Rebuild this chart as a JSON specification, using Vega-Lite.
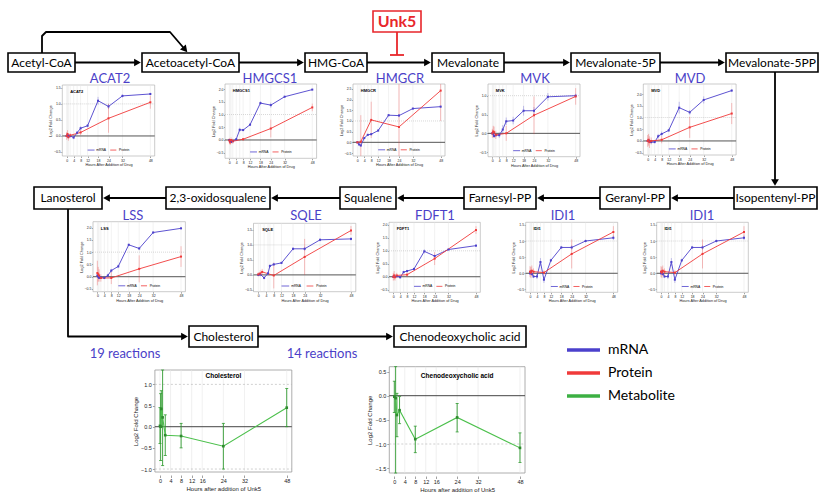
{
"$schema":"https://vega.github.io/schema/vega-lite/v6.json",
"width":820,"height":494,"padding":0,"autosize":{"type":"none"},"background":"white",
"config":{"view":{"stroke":null},"font":"Liberation Sans","legend":{"disable":true},
"axis":{"grid":false,"domain":false,"tickSize":1.5,"tickWidth":0.5,"tickColor":"#444","labelFontSize":3.5,"labelPadding":0.5,"titleFontSize":3.8,"titleFontWeight":"normal","titlePadding":1,"labelOverlap":false,"labelFlush":false,"labelColor":"#222","titleColor":"#222"}},
"resolve":{"scale":{"x":"independent","y":"independent"}},
"datasets":{
"paths":[
{"p":1,"o":1,"x":75,"y":62.5},{"p":1,"o":2,"x":138,"y":62.5},
{"p":2,"o":1,"x":239,"y":62.5},{"p":2,"o":2,"x":301,"y":62.5},
{"p":3,"o":1,"x":367,"y":62.5},{"p":3,"o":2,"x":428,"y":62.5},
{"p":4,"o":1,"x":504,"y":62.5},{"p":4,"o":2,"x":567,"y":62.5},
{"p":5,"o":1,"x":660,"y":62.5},{"p":5,"o":2,"x":722,"y":62.5},
{"p":6,"o":1,"x":42,"y":53},{"p":6,"o":2,"x":42,"y":36},{"p":6,"o":3,"x":46,"y":32},{"p":6,"o":4,"x":170,"y":32},{"p":6,"o":5,"x":185,"y":49.5},
{"p":7,"o":1,"x":775,"y":72},{"p":7,"o":2,"x":775,"y":182.5},
{"p":8,"o":1,"x":734,"y":198},{"p":8,"o":2,"x":674.5,"y":198},
{"p":9,"o":1,"x":600,"y":198},{"p":9,"o":2,"x":540.5,"y":198},
{"p":10,"o":1,"x":464,"y":198},{"p":10,"o":2,"x":400.5,"y":198},
{"p":11,"o":1,"x":340,"y":198},{"p":11,"o":2,"x":274.5,"y":198},
{"p":12,"o":1,"x":166,"y":198},{"p":12,"o":2,"x":106.5,"y":198},
{"p":13,"o":1,"x":68,"y":209},{"p":13,"o":2,"x":68,"y":336.5},{"p":13,"o":3,"x":184.5,"y":336.5},
{"p":14,"o":1,"x":258,"y":336.5},{"p":14,"o":2,"x":389.5,"y":336.5}],
"heads":[
{"x":137.5,"y":62.5,"a":0},{"x":300.5,"y":62.5,"a":0},{"x":427.5,"y":62.5,"a":0},{"x":566.5,"y":62.5,"a":0},{"x":721.5,"y":62.5,"a":0},
{"x":185.1,"y":49.6,"a":49},{"x":775,"y":182.5,"a":90},
{"x":674.5,"y":198,"a":180},{"x":540.5,"y":198,"a":180},{"x":400.5,"y":198,"a":180},{"x":274.5,"y":198,"a":180},{"x":106.5,"y":198,"a":180},
{"x":184.5,"y":336.5,"a":0},{"x":389.5,"y":336.5,"a":0}],
"inhib":[{"x1":397,"x2":397,"y1":32,"y2":55},{"x1":390,"x2":404,"y1":55,"y2":55}],
"boxes":[
{"label":"Acetyl-CoA","x1":8,"x2":75,"y1":53,"y2":72,"cx":41.5,"cy":62.5},
{"label":"Acetoacetyl-CoA","x1":142,"x2":239,"y1":53,"y2":72,"cx":190.5,"cy":62.5},
{"label":"HMG-CoA","x1":305,"x2":367,"y1":53,"y2":72,"cx":336,"cy":62.5},
{"label":"Mevalonate","x1":432,"x2":504,"y1":53,"y2":72,"cx":468,"cy":62.5},
{"label":"Mevalonate-5P","x1":571,"x2":660,"y1":53,"y2":72,"cx":615.5,"cy":62.5},
{"label":"Mevalonate-5PP","x1":726,"x2":818,"y1":53,"y2":72,"cx":772,"cy":62.5},
{"label":"Lanosterol","x1":34,"x2":102,"y1":187,"y2":209,"cx":68,"cy":198},
{"label":"2,3-oxidosqualene","x1":166,"x2":270,"y1":187,"y2":209,"cx":218,"cy":198},
{"label":"Squalene","x1":340,"x2":396,"y1":187,"y2":209,"cx":368,"cy":198},
{"label":"Farnesyl-PP","x1":464,"x2":536,"y1":187,"y2":209,"cx":500,"cy":198},
{"label":"Geranyl-PP","x1":600,"x2":670,"y1":187,"y2":209,"cx":635,"cy":198},
{"label":"Isopentenyl-PP","x1":734,"x2":817,"y1":187,"y2":209,"cx":775.5,"cy":198},
{"label":"Cholesterol","x1":189,"x2":258,"y1":326,"y2":347,"cx":223.5,"cy":336.5},
{"label":"Chenodeoxycholic acid","x1":394,"x2":526,"y1":326,"y2":347,"cx":460,"cy":336.5}],
"unk":[{"label":"Unk5","x1":373,"x2":421,"y1":11,"y2":32,"cx":397,"cy":21.5}],
"genes":[
{"g":"ACAT2","x":110,"y":79},{"g":"HMGCS1","x":270,"y":79},{"g":"HMGCR","x":400,"y":79},{"g":"MVK","x":535,"y":79},{"g":"MVD","x":690,"y":79},
{"g":"LSS","x":133,"y":216},{"g":"SQLE","x":306,"y":216},{"g":"FDFT1","x":435,"y":216},{"g":"IDI1","x":563,"y":216},{"g":"IDI1","x":702,"y":216},
{"g":"19 reactions","x":125,"y":354},{"g":"14 reactions","x":322,"y":354}],
"legend":[{"s":"mRNA","y":350},{"s":"Protein","y":373},{"s":"Metabolite","y":396}],
"acat2":[
{"s":"mRNA","t":0,"v":0,"lo":-0.04,"hi":0.04},{"s":"mRNA","t":0.5,"v":0.03,"lo":-0.02,"hi":0.08},{"s":"mRNA","t":1,"v":-0.02,"lo":-0.07,"hi":0.03},{"s":"mRNA","t":2,"v":0,"lo":-0.05,"hi":0.05},{"s":"mRNA","t":4,"v":-0.05,"lo":-0.1,"hi":0},{"s":"mRNA","t":6,"v":0.1,"lo":0.05,"hi":0.15},{"s":"mRNA","t":8,"v":0.24,"lo":0.18,"hi":0.3},{"s":"mRNA","t":12,"v":0.32,"lo":0.27,"hi":0.37},{"s":"mRNA","t":18,"v":1.1,"lo":0.98,"hi":1.22},{"s":"mRNA","t":24,"v":0.92,"lo":0.84,"hi":1},{"s":"mRNA","t":32,"v":1.25,"lo":1.2,"hi":1.3},{"s":"mRNA","t":48,"v":1.31,"lo":1.27,"hi":1.35},
{"s":"Protein","t":0,"v":0,"lo":-0.12,"hi":0.12},{"s":"Protein","t":0.5,"v":0.06,"lo":-0.06,"hi":0.18},{"s":"Protein","t":1,"v":-0.04,"lo":-0.15,"hi":0.07},{"s":"Protein","t":2,"v":0.02,"lo":-0.05,"hi":0.09},{"s":"Protein","t":8,"v":0.11,"lo":0.03,"hi":0.19},{"s":"Protein","t":24,"v":0.55,"lo":0.1,"hi":1},{"s":"Protein","t":48,"v":1.05,"lo":0.85,"hi":1.25}],
"hmgcs1":[
{"s":"mRNA","t":0,"v":0,"lo":-0.04,"hi":0.04},{"s":"mRNA","t":0.5,"v":-0.05,"lo":-0.09,"hi":-0.01},{"s":"mRNA","t":1,"v":-0.08,"lo":-0.12,"hi":-0.04},{"s":"mRNA","t":2,"v":-0.05,"lo":-0.09,"hi":-0.01},{"s":"mRNA","t":4,"v":0.03,"lo":-0.01,"hi":0.07},{"s":"mRNA","t":6,"v":0.4,"lo":0.32,"hi":0.48},{"s":"mRNA","t":8,"v":0.39,"lo":0.34,"hi":0.44},{"s":"mRNA","t":12,"v":0.6,"lo":0.55,"hi":0.65},{"s":"mRNA","t":18,"v":1.45,"lo":1.38,"hi":1.52},{"s":"mRNA","t":24,"v":1.37,"lo":1.27,"hi":1.47},{"s":"mRNA","t":32,"v":1.7,"lo":1.66,"hi":1.74},{"s":"mRNA","t":48,"v":1.98,"lo":1.95,"hi":2.01},
{"s":"Protein","t":0,"v":-0.02,"lo":-0.12,"hi":0.08},{"s":"Protein","t":0.5,"v":-0.1,"lo":-0.2,"hi":0},{"s":"Protein","t":1,"v":0,"lo":-0.1,"hi":0.1},{"s":"Protein","t":2,"v":-0.05,"lo":-0.15,"hi":0.05},{"s":"Protein","t":8,"v":0.03,"lo":-0.02,"hi":0.08},{"s":"Protein","t":24,"v":0.45,"lo":0.1,"hi":0.8},{"s":"Protein","t":48,"v":1.28,"lo":1.13,"hi":1.43}],
"hmgcr":[
{"s":"mRNA","t":0,"v":0,"lo":-0.04,"hi":0.04},{"s":"mRNA","t":1,"v":-0.1,"lo":-0.14,"hi":-0.06},{"s":"mRNA","t":2,"v":-0.15,"lo":-0.2,"hi":-0.1},{"s":"mRNA","t":4,"v":0.2,"lo":0.15,"hi":0.25},{"s":"mRNA","t":6,"v":0.35,"lo":0.3,"hi":0.4},{"s":"mRNA","t":8,"v":0.38,"lo":0.33,"hi":0.43},{"s":"mRNA","t":12,"v":0.55,"lo":0.5,"hi":0.6},{"s":"mRNA","t":18,"v":1.27,"lo":1.22,"hi":1.32},{"s":"mRNA","t":24,"v":1.25,"lo":1.18,"hi":1.32},{"s":"mRNA","t":32,"v":1.58,"lo":1.54,"hi":1.62},{"s":"mRNA","t":48,"v":1.67,"lo":1.62,"hi":1.72},
{"s":"Protein","t":0,"v":0,"lo":-0.05,"hi":0.05},{"s":"Protein","t":2,"v":0.03,"lo":-0.64,"hi":1.27},{"s":"Protein","t":8,"v":1.05,"lo":0.2,"hi":1.9},{"s":"Protein","t":24,"v":0.72,"lo":-0.64,"hi":2.73},{"s":"Protein","t":48,"v":2.42,"lo":1,"hi":2.73}],
"mvk":[
{"s":"mRNA","t":0,"v":0,"lo":-0.05,"hi":0.05},{"s":"mRNA","t":0.5,"v":0,"lo":-0.05,"hi":0.05},{"s":"mRNA","t":1,"v":-0.07,"lo":-0.12,"hi":-0.02},{"s":"mRNA","t":2,"v":-0.05,"lo":-0.1,"hi":0},{"s":"mRNA","t":4,"v":-0.05,"lo":-0.12,"hi":0.02},{"s":"mRNA","t":6,"v":0.1,"lo":-0.02,"hi":0.22},{"s":"mRNA","t":8,"v":0.32,"lo":0.22,"hi":0.42},{"s":"mRNA","t":12,"v":0.34,"lo":0.24,"hi":0.44},{"s":"mRNA","t":18,"v":0.6,"lo":0.47,"hi":0.73},{"s":"mRNA","t":24,"v":0.6,"lo":0.5,"hi":0.7},{"s":"mRNA","t":32,"v":0.97,"lo":0.87,"hi":1.07},{"s":"mRNA","t":48,"v":1,"lo":0.95,"hi":1.05},
{"s":"Protein","t":0,"v":0,"lo":-0.12,"hi":0.12},{"s":"Protein","t":0.5,"v":0.05,"lo":-0.1,"hi":0.2},{"s":"Protein","t":1,"v":0.03,"lo":-0.12,"hi":0.18},{"s":"Protein","t":2,"v":-0.04,"lo":-0.15,"hi":0.07},{"s":"Protein","t":8,"v":0,"lo":-0.2,"hi":0.2},{"s":"Protein","t":24,"v":0.48,"lo":-0.02,"hi":0.98},{"s":"Protein","t":48,"v":0.98,"lo":0.76,"hi":1.2}],
"mvd":[
{"s":"mRNA","t":0,"v":0,"lo":-0.05,"hi":0.05},{"s":"mRNA","t":0.5,"v":0.02,"lo":-0.03,"hi":0.07},{"s":"mRNA","t":1,"v":-0.03,"lo":-0.08,"hi":0.02},{"s":"mRNA","t":2,"v":-0.05,"lo":-0.1,"hi":0},{"s":"mRNA","t":4,"v":-0.05,"lo":-0.1,"hi":0},{"s":"mRNA","t":6,"v":0.2,"lo":0.1,"hi":0.3},{"s":"mRNA","t":8,"v":0.3,"lo":0.2,"hi":0.4},{"s":"mRNA","t":12,"v":0.45,"lo":0.38,"hi":0.52},{"s":"mRNA","t":18,"v":1.42,"lo":1.17,"hi":1.67},{"s":"mRNA","t":24,"v":1.22,"lo":1.12,"hi":1.32},{"s":"mRNA","t":32,"v":1.75,"lo":1.6,"hi":1.9},{"s":"mRNA","t":48,"v":2.15,"lo":2.1,"hi":2.2},
{"s":"Protein","t":0,"v":0,"lo":-0.25,"hi":0.25},{"s":"Protein","t":0.5,"v":0.05,"lo":-0.2,"hi":0.3},{"s":"Protein","t":1,"v":-0.05,"lo":-0.3,"hi":0.2},{"s":"Protein","t":2,"v":0,"lo":-0.15,"hi":0.15},{"s":"Protein","t":8,"v":0.05,"lo":-0.1,"hi":0.2},{"s":"Protein","t":24,"v":0.58,"lo":0.13,"hi":1.03},{"s":"Protein","t":48,"v":1.17,"lo":0.72,"hi":1.62}],
"lss":[
{"s":"mRNA","t":0,"v":0.05,"lo":0,"hi":0.1},{"s":"mRNA","t":0.5,"v":0,"lo":-0.05,"hi":0.05},{"s":"mRNA","t":1,"v":-0.05,"lo":-0.1,"hi":0},{"s":"mRNA","t":2,"v":-0.03,"lo":-0.08,"hi":0.02},{"s":"mRNA","t":4,"v":-0.05,"lo":-0.1,"hi":0},{"s":"mRNA","t":6,"v":0.05,"lo":-0.02,"hi":0.12},{"s":"mRNA","t":8,"v":0.25,"lo":0.18,"hi":0.32},{"s":"mRNA","t":12,"v":0.42,"lo":0.35,"hi":0.49},{"s":"mRNA","t":18,"v":1.3,"lo":1.25,"hi":1.35},{"s":"mRNA","t":24,"v":1.15,"lo":1.08,"hi":1.22},{"s":"mRNA","t":32,"v":1.8,"lo":1.75,"hi":1.85},{"s":"mRNA","t":48,"v":1.97,"lo":1.93,"hi":2.01},
{"s":"Protein","t":0,"v":0.15,"lo":-0.35,"hi":0.65},{"s":"Protein","t":0.5,"v":0.1,"lo":-0.2,"hi":0.4},{"s":"Protein","t":1,"v":0.05,"lo":-0.2,"hi":0.3},{"s":"Protein","t":2,"v":-0.05,"lo":-0.2,"hi":0.1},{"s":"Protein","t":8,"v":-0.05,"lo":-0.3,"hi":0.2},{"s":"Protein","t":24,"v":0.32,"lo":-0.23,"hi":0.87},{"s":"Protein","t":48,"v":0.82,"lo":0.4,"hi":1.24}],
"sqle":[
{"s":"mRNA","t":0,"v":0,"lo":-0.04,"hi":0.04},{"s":"mRNA","t":1,"v":0.02,"lo":-0.02,"hi":0.06},{"s":"mRNA","t":3,"v":-0.1,"lo":-0.15,"hi":-0.05},{"s":"mRNA","t":5,"v":0.05,"lo":0,"hi":0.1},{"s":"mRNA","t":6,"v":0.3,"lo":0.25,"hi":0.35},{"s":"mRNA","t":8,"v":0.35,"lo":0.3,"hi":0.4},{"s":"mRNA","t":12,"v":0.4,"lo":0.36,"hi":0.44},{"s":"mRNA","t":18,"v":0.87,"lo":0.82,"hi":0.92},{"s":"mRNA","t":24,"v":0.87,"lo":0.8,"hi":0.94},{"s":"mRNA","t":32,"v":1.17,"lo":1.12,"hi":1.22},{"s":"mRNA","t":48,"v":1.2,"lo":1.15,"hi":1.25},
{"s":"Protein","t":0,"v":0.02,"lo":-0.05,"hi":0.09},{"s":"Protein","t":1,"v":0.05,"lo":-0.05,"hi":0.15},{"s":"Protein","t":2,"v":0.1,"lo":0,"hi":0.2},{"s":"Protein","t":8,"v":-0.02,"lo":-0.45,"hi":0.41},{"s":"Protein","t":24,"v":0.6,"lo":0,"hi":1.2},{"s":"Protein","t":48,"v":1.48,"lo":1.33,"hi":1.63}],
"fdft1":[
{"s":"mRNA","t":0,"v":0,"lo":-0.04,"hi":0.04},{"s":"mRNA","t":0.5,"v":0.02,"lo":-0.02,"hi":0.06},{"s":"mRNA","t":1,"v":0,"lo":-0.04,"hi":0.04},{"s":"mRNA","t":2,"v":0.02,"lo":-0.02,"hi":0.06},{"s":"mRNA","t":4,"v":-0.02,"lo":-0.08,"hi":0.04},{"s":"mRNA","t":6,"v":0.18,"lo":0.13,"hi":0.23},{"s":"mRNA","t":8,"v":0.22,"lo":0.17,"hi":0.27},{"s":"mRNA","t":12,"v":0.3,"lo":0.25,"hi":0.35},{"s":"mRNA","t":18,"v":0.98,"lo":0.9,"hi":1.06},{"s":"mRNA","t":24,"v":0.8,"lo":0.74,"hi":0.86},{"s":"mRNA","t":32,"v":1.05,"lo":1.02,"hi":1.08},{"s":"mRNA","t":48,"v":1.2,"lo":1.15,"hi":1.25},
{"s":"Protein","t":0,"v":0,"lo":-0.15,"hi":0.15},{"s":"Protein","t":0.5,"v":0.05,"lo":-0.12,"hi":0.22},{"s":"Protein","t":1,"v":-0.02,"lo":-0.15,"hi":0.11},{"s":"Protein","t":2,"v":0.05,"lo":-0.05,"hi":0.15},{"s":"Protein","t":8,"v":0.08,"lo":0,"hi":0.16},{"s":"Protein","t":24,"v":0.7,"lo":0.45,"hi":0.95},{"s":"Protein","t":48,"v":1.8,"lo":1.65,"hi":1.95}],
"idi1":[
{"s":"mRNA","t":0,"v":0,"lo":-0.05,"hi":0.05},{"s":"mRNA","t":0.5,"v":0.05,"lo":0,"hi":0.1},{"s":"mRNA","t":1,"v":-0.02,"lo":-0.07,"hi":0.03},{"s":"mRNA","t":2,"v":-0.1,"lo":-0.15,"hi":-0.05},{"s":"mRNA","t":4,"v":-0.1,"lo":-0.18,"hi":-0.02},{"s":"mRNA","t":6,"v":0.35,"lo":0.23,"hi":0.47},{"s":"mRNA","t":8,"v":-0.2,"lo":-0.3,"hi":-0.1},{"s":"mRNA","t":12,"v":0.4,"lo":0.35,"hi":0.45},{"s":"mRNA","t":18,"v":0.8,"lo":0.75,"hi":0.85},{"s":"mRNA","t":24,"v":0.8,"lo":0.73,"hi":0.87},{"s":"mRNA","t":32,"v":1,"lo":0.95,"hi":1.05},{"s":"mRNA","t":48,"v":1.1,"lo":1.03,"hi":1.17},
{"s":"Protein","t":0,"v":0.05,"lo":-0.12,"hi":0.22},{"s":"Protein","t":0.5,"v":0.02,"lo":-0.15,"hi":0.19},{"s":"Protein","t":1,"v":0.08,"lo":-0.08,"hi":0.24},{"s":"Protein","t":2,"v":0.05,"lo":-0.05,"hi":0.15},{"s":"Protein","t":8,"v":0.02,"lo":-0.05,"hi":0.09},{"s":"Protein","t":24,"v":0.6,"lo":0.15,"hi":1.05},{"s":"Protein","t":48,"v":1.28,"lo":1.1,"hi":1.46}],
"chol":[
{"s":"Metabolite","t":0,"v":0.02,"lo":-0.4,"hi":0.45},{"s":"Metabolite","t":0.25,"v":0,"lo":-0.8,"hi":0.78},{"s":"Metabolite","t":0.5,"v":0.42,"lo":0,"hi":0.85},{"s":"Metabolite","t":1,"v":0.22,"lo":-0.92,"hi":1.34},{"s":"Metabolite","t":2,"v":-0.2,"lo":-0.68,"hi":0.28},{"s":"Metabolite","t":8,"v":-0.22,"lo":-0.5,"hi":0.08},{"s":"Metabolite","t":24,"v":-0.46,"lo":-1,"hi":0.08},{"s":"Metabolite","t":48,"v":0.45,"lo":0,"hi":0.9}],
"cheno":[
{"s":"Metabolite","t":0,"v":-0.02,"lo":-0.35,"hi":0.3},{"s":"Metabolite","t":0.5,"v":-0.05,"lo":-1.6,"hi":0.6},{"s":"Metabolite","t":1,"v":-0.4,"lo":-0.85,"hi":0.05},{"s":"Metabolite","t":2,"v":-0.3,"lo":-0.58,"hi":-0.02},{"s":"Metabolite","t":8,"v":-0.9,"lo":-1.18,"hi":-0.63},{"s":"Metabolite","t":24,"v":-0.45,"lo":-0.75,"hi":-0.16},{"s":"Metabolite","t":48,"v":-1.08,"lo":-1.38,"hi":-0.77}],
"mgrid":[{"h":0},{"h":4},{"h":8},{"h":12},{"h":16},{"h":24},{"h":32},{"h":48}]
},
"layer":[
{"layer":[
{"data":{"name":"paths"},"mark":{"type":"line","color":"black","strokeWidth":1.8,"strokeJoin":"round"},"encoding":{"x":{"field":"x","type":"quantitative","scale":{"domain":[0,820],"range":[0,820]},"axis":null},"y":{"field":"y","type":"quantitative","scale":{"domain":[0,494],"range":[0,494]},"axis":null},"detail":{"field":"p","type":"nominal"},"order":{"field":"o","type":"quantitative"}}},
{"data":{"name":"heads"},"mark":{"type":"point","shape":"triangle-right","filled":true,"color":"black","size":60,"opacity":1},"encoding":{"x":{"field":"x","type":"quantitative","scale":{"domain":[0,820],"range":[0,820]},"axis":null},"y":{"field":"y","type":"quantitative","scale":{"domain":[0,494],"range":[0,494]},"axis":null},"angle":{"field":"a","type":"quantitative","scale":null}}},
{"data":{"name":"inhib"},"mark":{"type":"rule","color":"#e8262b","strokeWidth":1.8},"encoding":{"x":{"field":"x1","type":"quantitative","scale":{"domain":[0,820],"range":[0,820]},"axis":null},"x2":{"field":"x2"},"y":{"field":"y1","type":"quantitative","scale":{"domain":[0,494],"range":[0,494]},"axis":null},"y2":{"field":"y2"}}},
{"data":{"name":"boxes"},"mark":{"type":"rect","fill":"white","stroke":"black","strokeWidth":1.6},"encoding":{"x":{"field":"x1","type":"quantitative","scale":{"domain":[0,820],"range":[0,820]},"axis":null},"x2":{"field":"x2"},"y":{"field":"y1","type":"quantitative","scale":{"domain":[0,494],"range":[0,494]},"axis":null},"y2":{"field":"y2"}}},
{"data":{"name":"boxes"},"mark":{"type":"text","font":"Lato","fontSize":12,"color":"black","align":"center","baseline":"middle"},"encoding":{"x":{"field":"cx","type":"quantitative","scale":{"domain":[0,820],"range":[0,820]},"axis":null},"y":{"field":"cy","type":"quantitative","scale":{"domain":[0,494],"range":[0,494]},"axis":null},"text":{"field":"label"}}},
{"data":{"name":"unk"},"mark":{"type":"rect","fill":"white","stroke":"#e8262b","strokeWidth":1.6},"encoding":{"x":{"field":"x1","type":"quantitative","scale":{"domain":[0,820],"range":[0,820]},"axis":null},"x2":{"field":"x2"},"y":{"field":"y1","type":"quantitative","scale":{"domain":[0,494],"range":[0,494]},"axis":null},"y2":{"field":"y2"}}},
{"data":{"name":"unk"},"mark":{"type":"text","font":"Lato","fontSize":16,"fontWeight":"bold","color":"#e8262b","align":"center","baseline":"middle"},"encoding":{"x":{"field":"cx","type":"quantitative","scale":{"domain":[0,820],"range":[0,820]},"axis":null},"y":{"field":"cy","type":"quantitative","scale":{"domain":[0,494],"range":[0,494]},"axis":null},"text":{"field":"label"}}},
{"data":{"name":"genes"},"mark":{"type":"text","font":"Lato","fontSize":13,"color":"#4b3fc8","align":"center","baseline":"middle"},"encoding":{"x":{"field":"x","type":"quantitative","scale":{"domain":[0,820],"range":[0,820]},"axis":null},"y":{"field":"y","type":"quantitative","scale":{"domain":[0,494],"range":[0,494]},"axis":null},"text":{"field":"g"}}},
{"data":{"name":"legend"},"mark":{"type":"rule","strokeWidth":3.5},"encoding":{"x":{"datum":567,"type":"quantitative","scale":{"domain":[0,820],"range":[0,820]},"axis":null},"x2":{"datum":600},"y":{"field":"y","type":"quantitative","scale":{"domain":[0,494],"range":[0,494]},"axis":null},"color":{"field":"s","type":"nominal","scale":{"domain":["mRNA","Protein","Metabolite"],"range":["#4b40cc","#f03a3a","#3cb043"]}}}},
{"data":{"name":"legend"},"mark":{"type":"text","font":"Lato","fontSize":14,"color":"black","align":"left","baseline":"middle"},"encoding":{"x":{"datum":608,"type":"quantitative","scale":{"domain":[0,820],"range":[0,820]},"axis":null},"y":{"field":"y","type":"quantitative","scale":{"domain":[0,494],"range":[0,494]},"axis":null},"text":{"field":"s"}}}
]},

{"layer":[
{"data":{"values":[{}]},"mark":{"type":"rect","fill":"white","stroke":"#a8a8a8","strokeWidth":0.6},"encoding":{"x":{"datum":-2.5,"type":"quantitative","scale":{"domain":[-2.5,50.5],"range":[62.3,154.7]},"axis":{"orient":"bottom","offset":-338,"values":[0,4,8,12,18,24,32,48],"title":"Hours After Addition of Drug"}},"x2":{"datum":50.5},"y":{"datum":-0.625,"type":"quantitative","scale":{"domain":[-0.625,1.59],"range":[156,85]},"axis":{"orient":"left","offset":-62.3,"values":[-0.5,0,0.5,1,1.5],"format":".1f","title":"Log2 Fold Change"}},"y2":{"datum":1.59}}},
{"data":{"name":"acat2"},"transform":[{"filter":"datum.s==='mRNA'"}],"mark":{"type":"rule","stroke":"#e4e4e4","strokeWidth":0.5},"encoding":{"x":{"field":"t","type":"quantitative","scale":{"domain":[-2.5,50.5],"range":[62.3,154.7]}},"y":{"datum":-0.625,"type":"quantitative","scale":{"domain":[-0.625,1.59],"range":[156,85]}},"y2":{"datum":1.59}}},
{"data":{"values":[{}]},"mark":{"type":"rule","stroke":"#b0b0b0","strokeWidth":0.5,"strokeDash":[1,1]},"encoding":{"x":{"datum":-2.5,"type":"quantitative","scale":{"domain":[-2.5,50.5],"range":[62.3,154.7]}},"x2":{"datum":50.5},"y":{"datum":1,"type":"quantitative","scale":{"domain":[-0.625,1.59],"range":[156,85]}}}},
{"data":{"values":[{}]},"mark":{"type":"rule","stroke":"#555555","strokeWidth":1},"encoding":{"x":{"datum":-2.5,"type":"quantitative","scale":{"domain":[-2.5,50.5],"range":[62.3,154.7]}},"x2":{"datum":50.5},"y":{"datum":0,"type":"quantitative","scale":{"domain":[-0.625,1.59],"range":[156,85]}}}},
{"data":{"name":"acat2"},"mark":{"type":"rule","strokeWidth":0.6,"opacity":0.55},"encoding":{"x":{"field":"t","type":"quantitative","scale":{"domain":[-2.5,50.5],"range":[62.3,154.7]}},"y":{"field":"lo","type":"quantitative","scale":{"domain":[-0.625,1.59],"range":[156,85]}},"y2":{"field":"hi"},"color":{"field":"s","type":"nominal","scale":{"domain":["mRNA","Protein","Metabolite"],"range":["#4b40cc","#f03a3a","#3cb043"]}}}},
{"data":{"name":"acat2"},"mark":{"type":"line","strokeWidth":0.9},"encoding":{"x":{"field":"t","type":"quantitative","scale":{"domain":[-2.5,50.5],"range":[62.3,154.7]}},"y":{"field":"v","type":"quantitative","scale":{"domain":[-0.625,1.59],"range":[156,85]}},"color":{"field":"s","type":"nominal","scale":{"domain":["mRNA","Protein","Metabolite"],"range":["#4b40cc","#f03a3a","#3cb043"]}}}},
{"data":{"name":"acat2"},"mark":{"type":"point","filled":true,"shape":"square","size":4,"opacity":1},"encoding":{"x":{"field":"t","type":"quantitative","scale":{"domain":[-2.5,50.5],"range":[62.3,154.7]}},"y":{"field":"v","type":"quantitative","scale":{"domain":[-0.625,1.59],"range":[156,85]}},"color":{"field":"s","type":"nominal","scale":{"domain":["mRNA","Protein","Metabolite"],"range":["#4b40cc","#f03a3a","#3cb043"]}}}},
{"data":{"values":[{}]},"mark":{"type":"text","text":"ACAT2","align":"left","baseline":"middle","fontSize":4,"fontWeight":"bold"},"encoding":{"x":{"datum":2,"type":"quantitative","scale":{"domain":[-2.5,50.5],"range":[62.3,154.7]}},"y":{"datum":1.37,"type":"quantitative","scale":{"domain":[-0.625,1.59],"range":[156,85]}}}},
{"data":{"values":[{}]},"mark":{"type":"rule","stroke":"#4b40cc","strokeWidth":0.8},"encoding":{"x":{"datum":12,"type":"quantitative","scale":{"domain":[-2.5,50.5],"range":[62.3,154.7]}},"x2":{"datum":16},"y":{"datum":-0.44,"type":"quantitative","scale":{"domain":[-0.625,1.59],"range":[156,85]}}}},
{"data":{"values":[{}]},"mark":{"type":"text","text":"mRNA","align":"left","baseline":"middle","fontSize":3.3},"encoding":{"x":{"datum":17,"type":"quantitative","scale":{"domain":[-2.5,50.5],"range":[62.3,154.7]}},"y":{"datum":-0.44,"type":"quantitative","scale":{"domain":[-0.625,1.59],"range":[156,85]}}}},
{"data":{"values":[{}]},"mark":{"type":"rule","stroke":"#f03a3a","strokeWidth":0.8},"encoding":{"x":{"datum":25,"type":"quantitative","scale":{"domain":[-2.5,50.5],"range":[62.3,154.7]}},"x2":{"datum":28.5},"y":{"datum":-0.44,"type":"quantitative","scale":{"domain":[-0.625,1.59],"range":[156,85]}}}},
{"data":{"values":[{}]},"mark":{"type":"text","text":"Protein","align":"left","baseline":"middle","fontSize":3.3},"encoding":{"x":{"datum":30,"type":"quantitative","scale":{"domain":[-2.5,50.5],"range":[62.3,154.7]}},"y":{"datum":-0.44,"type":"quantitative","scale":{"domain":[-0.625,1.59],"range":[156,85]}}}}
]},

{"layer":[
{"data":{"values":[{}]},"mark":{"type":"rect","fill":"white","stroke":"#a8a8a8","strokeWidth":0.6},"encoding":{"x":{"datum":-2.5,"type":"quantitative","scale":{"domain":[-2.5,50.5],"range":[225,316.6]},"axis":{"orient":"bottom","offset":-335.7,"values":[0,4,8,12,18,24,32,48],"title":"Hours After Addition of Drug"}},"x2":{"datum":50.5},"y":{"datum":-0.72,"type":"quantitative","scale":{"domain":[-0.72,2.2],"range":[158.3,84]},"axis":{"orient":"left","offset":-225,"values":[-0.5,0,0.5,1,1.5,2],"format":".1f","title":"Log2 Fold Change"}},"y2":{"datum":2.2}}},
{"data":{"name":"hmgcs1"},"transform":[{"filter":"datum.s==='mRNA'"}],"mark":{"type":"rule","stroke":"#e4e4e4","strokeWidth":0.5},"encoding":{"x":{"field":"t","type":"quantitative","scale":{"domain":[-2.5,50.5],"range":[225,316.6]}},"y":{"datum":-0.72,"type":"quantitative","scale":{"domain":[-0.72,2.2],"range":[158.3,84]}},"y2":{"datum":2.2}}},
{"data":{"values":[{}]},"mark":{"type":"rule","stroke":"#b0b0b0","strokeWidth":0.5,"strokeDash":[1,1]},"encoding":{"x":{"datum":-2.5,"type":"quantitative","scale":{"domain":[-2.5,50.5],"range":[225,316.6]}},"x2":{"datum":50.5},"y":{"datum":1,"type":"quantitative","scale":{"domain":[-0.72,2.2],"range":[158.3,84]}}}},
{"data":{"values":[{}]},"mark":{"type":"rule","stroke":"#555555","strokeWidth":1},"encoding":{"x":{"datum":-2.5,"type":"quantitative","scale":{"domain":[-2.5,50.5],"range":[225,316.6]}},"x2":{"datum":50.5},"y":{"datum":0,"type":"quantitative","scale":{"domain":[-0.72,2.2],"range":[158.3,84]}}}},
{"data":{"name":"hmgcs1"},"mark":{"type":"rule","strokeWidth":0.6,"opacity":0.55},"encoding":{"x":{"field":"t","type":"quantitative","scale":{"domain":[-2.5,50.5],"range":[225,316.6]}},"y":{"field":"lo","type":"quantitative","scale":{"domain":[-0.72,2.2],"range":[158.3,84]}},"y2":{"field":"hi"},"color":{"field":"s","type":"nominal","scale":{"domain":["mRNA","Protein","Metabolite"],"range":["#4b40cc","#f03a3a","#3cb043"]}}}},
{"data":{"name":"hmgcs1"},"mark":{"type":"line","strokeWidth":0.9},"encoding":{"x":{"field":"t","type":"quantitative","scale":{"domain":[-2.5,50.5],"range":[225,316.6]}},"y":{"field":"v","type":"quantitative","scale":{"domain":[-0.72,2.2],"range":[158.3,84]}},"color":{"field":"s","type":"nominal","scale":{"domain":["mRNA","Protein","Metabolite"],"range":["#4b40cc","#f03a3a","#3cb043"]}}}},
{"data":{"name":"hmgcs1"},"mark":{"type":"point","filled":true,"shape":"square","size":4,"opacity":1},"encoding":{"x":{"field":"t","type":"quantitative","scale":{"domain":[-2.5,50.5],"range":[225,316.6]}},"y":{"field":"v","type":"quantitative","scale":{"domain":[-0.72,2.2],"range":[158.3,84]}},"color":{"field":"s","type":"nominal","scale":{"domain":["mRNA","Protein","Metabolite"],"range":["#4b40cc","#f03a3a","#3cb043"]}}}},
{"data":{"values":[{}]},"mark":{"type":"text","text":"HMGCS1","align":"left","baseline":"middle","fontSize":4,"fontWeight":"bold"},"encoding":{"x":{"datum":2,"type":"quantitative","scale":{"domain":[-2.5,50.5],"range":[225,316.6]}},"y":{"datum":1.91,"type":"quantitative","scale":{"domain":[-0.72,2.2],"range":[158.3,84]}}}},
{"data":{"values":[{}]},"mark":{"type":"rule","stroke":"#4b40cc","strokeWidth":0.8},"encoding":{"x":{"datum":12,"type":"quantitative","scale":{"domain":[-2.5,50.5],"range":[225,316.6]}},"x2":{"datum":16},"y":{"datum":-0.47,"type":"quantitative","scale":{"domain":[-0.72,2.2],"range":[158.3,84]}}}},
{"data":{"values":[{}]},"mark":{"type":"text","text":"mRNA","align":"left","baseline":"middle","fontSize":3.3},"encoding":{"x":{"datum":17,"type":"quantitative","scale":{"domain":[-2.5,50.5],"range":[225,316.6]}},"y":{"datum":-0.47,"type":"quantitative","scale":{"domain":[-0.72,2.2],"range":[158.3,84]}}}},
{"data":{"values":[{}]},"mark":{"type":"rule","stroke":"#f03a3a","strokeWidth":0.8},"encoding":{"x":{"datum":25,"type":"quantitative","scale":{"domain":[-2.5,50.5],"range":[225,316.6]}},"x2":{"datum":28.5},"y":{"datum":-0.47,"type":"quantitative","scale":{"domain":[-0.72,2.2],"range":[158.3,84]}}}},
{"data":{"values":[{}]},"mark":{"type":"text","text":"Protein","align":"left","baseline":"middle","fontSize":3.3},"encoding":{"x":{"datum":30,"type":"quantitative","scale":{"domain":[-2.5,50.5],"range":[225,316.6]}},"y":{"datum":-0.47,"type":"quantitative","scale":{"domain":[-0.72,2.2],"range":[158.3,84]}}}}
]},

{"layer":[
{"data":{"values":[{}]},"mark":{"type":"rect","fill":"white","stroke":"#a8a8a8","strokeWidth":0.6},"encoding":{"x":{"datum":-2.5,"type":"quantitative","scale":{"domain":[-2.5,50.5],"range":[353,445]},"axis":{"orient":"bottom","offset":-338,"values":[0,4,8,12,18,24,32,48],"title":"Hours After Addition of Drug"}},"x2":{"datum":50.5},"y":{"datum":-0.64,"type":"quantitative","scale":{"domain":[-0.64,2.73],"range":[156,84]},"axis":{"orient":"left","offset":-353,"values":[-0.5,0,0.5,1,1.5,2,2.5],"format":".1f","title":"Log2 Fold Change"}},"y2":{"datum":2.73}}},
{"data":{"name":"hmgcr"},"transform":[{"filter":"datum.s==='mRNA'"}],"mark":{"type":"rule","stroke":"#e4e4e4","strokeWidth":0.5},"encoding":{"x":{"field":"t","type":"quantitative","scale":{"domain":[-2.5,50.5],"range":[353,445]}},"y":{"datum":-0.64,"type":"quantitative","scale":{"domain":[-0.64,2.73],"range":[156,84]}},"y2":{"datum":2.73}}},
{"data":{"values":[{}]},"mark":{"type":"rule","stroke":"#b0b0b0","strokeWidth":0.5,"strokeDash":[1,1]},"encoding":{"x":{"datum":-2.5,"type":"quantitative","scale":{"domain":[-2.5,50.5],"range":[353,445]}},"x2":{"datum":50.5},"y":{"datum":1,"type":"quantitative","scale":{"domain":[-0.64,2.73],"range":[156,84]}}}},
{"data":{"values":[{}]},"mark":{"type":"rule","stroke":"#555555","strokeWidth":1},"encoding":{"x":{"datum":-2.5,"type":"quantitative","scale":{"domain":[-2.5,50.5],"range":[353,445]}},"x2":{"datum":50.5},"y":{"datum":0,"type":"quantitative","scale":{"domain":[-0.64,2.73],"range":[156,84]}}}},
{"data":{"name":"hmgcr"},"mark":{"type":"rule","strokeWidth":0.6,"opacity":0.55},"encoding":{"x":{"field":"t","type":"quantitative","scale":{"domain":[-2.5,50.5],"range":[353,445]}},"y":{"field":"lo","type":"quantitative","scale":{"domain":[-0.64,2.73],"range":[156,84]}},"y2":{"field":"hi"},"color":{"field":"s","type":"nominal","scale":{"domain":["mRNA","Protein","Metabolite"],"range":["#4b40cc","#f03a3a","#3cb043"]}}}},
{"data":{"name":"hmgcr"},"mark":{"type":"line","strokeWidth":0.9},"encoding":{"x":{"field":"t","type":"quantitative","scale":{"domain":[-2.5,50.5],"range":[353,445]}},"y":{"field":"v","type":"quantitative","scale":{"domain":[-0.64,2.73],"range":[156,84]}},"color":{"field":"s","type":"nominal","scale":{"domain":["mRNA","Protein","Metabolite"],"range":["#4b40cc","#f03a3a","#3cb043"]}}}},
{"data":{"name":"hmgcr"},"mark":{"type":"point","filled":true,"shape":"square","size":4,"opacity":1},"encoding":{"x":{"field":"t","type":"quantitative","scale":{"domain":[-2.5,50.5],"range":[353,445]}},"y":{"field":"v","type":"quantitative","scale":{"domain":[-0.64,2.73],"range":[156,84]}},"color":{"field":"s","type":"nominal","scale":{"domain":["mRNA","Protein","Metabolite"],"range":["#4b40cc","#f03a3a","#3cb043"]}}}},
{"data":{"values":[{}]},"mark":{"type":"text","text":"HMGCR","align":"left","baseline":"middle","fontSize":4,"fontWeight":"bold"},"encoding":{"x":{"datum":2,"type":"quantitative","scale":{"domain":[-2.5,50.5],"range":[353,445]}},"y":{"datum":2.39,"type":"quantitative","scale":{"domain":[-0.64,2.73],"range":[156,84]}}}},
{"data":{"values":[{}]},"mark":{"type":"rule","stroke":"#4b40cc","strokeWidth":0.8},"encoding":{"x":{"datum":12,"type":"quantitative","scale":{"domain":[-2.5,50.5],"range":[353,445]}},"x2":{"datum":16},"y":{"datum":-0.35,"type":"quantitative","scale":{"domain":[-0.64,2.73],"range":[156,84]}}}},
{"data":{"values":[{}]},"mark":{"type":"text","text":"mRNA","align":"left","baseline":"middle","fontSize":3.3},"encoding":{"x":{"datum":17,"type":"quantitative","scale":{"domain":[-2.5,50.5],"range":[353,445]}},"y":{"datum":-0.35,"type":"quantitative","scale":{"domain":[-0.64,2.73],"range":[156,84]}}}},
{"data":{"values":[{}]},"mark":{"type":"rule","stroke":"#f03a3a","strokeWidth":0.8},"encoding":{"x":{"datum":25,"type":"quantitative","scale":{"domain":[-2.5,50.5],"range":[353,445]}},"x2":{"datum":28.5},"y":{"datum":-0.35,"type":"quantitative","scale":{"domain":[-0.64,2.73],"range":[156,84]}}}},
{"data":{"values":[{}]},"mark":{"type":"text","text":"Protein","align":"left","baseline":"middle","fontSize":3.3},"encoding":{"x":{"datum":30,"type":"quantitative","scale":{"domain":[-2.5,50.5],"range":[353,445]}},"y":{"datum":-0.35,"type":"quantitative","scale":{"domain":[-0.64,2.73],"range":[156,84]}}}}
]},

{"layer":[
{"data":{"values":[{}]},"mark":{"type":"rect","fill":"white","stroke":"#a8a8a8","strokeWidth":0.6},"encoding":{"x":{"datum":-2.5,"type":"quantitative","scale":{"domain":[-2.5,50.5],"range":[488,580]},"axis":{"orient":"bottom","offset":-337.3,"values":[0,4,8,12,18,24,32,48],"title":"Hours After Addition of Drug"}},"x2":{"datum":50.5},"y":{"datum":-0.62,"type":"quantitative","scale":{"domain":[-0.62,1.31],"range":[156.7,84]},"axis":{"orient":"left","offset":-488,"values":[-0.5,0,0.5,1],"format":".1f","title":"Log2 Fold Change"}},"y2":{"datum":1.31}}},
{"data":{"name":"mvk"},"transform":[{"filter":"datum.s==='mRNA'"}],"mark":{"type":"rule","stroke":"#e4e4e4","strokeWidth":0.5},"encoding":{"x":{"field":"t","type":"quantitative","scale":{"domain":[-2.5,50.5],"range":[488,580]}},"y":{"datum":-0.62,"type":"quantitative","scale":{"domain":[-0.62,1.31],"range":[156.7,84]}},"y2":{"datum":1.31}}},
{"data":{"values":[{}]},"mark":{"type":"rule","stroke":"#b0b0b0","strokeWidth":0.5,"strokeDash":[1,1]},"encoding":{"x":{"datum":-2.5,"type":"quantitative","scale":{"domain":[-2.5,50.5],"range":[488,580]}},"x2":{"datum":50.5},"y":{"datum":1,"type":"quantitative","scale":{"domain":[-0.62,1.31],"range":[156.7,84]}}}},
{"data":{"values":[{}]},"mark":{"type":"rule","stroke":"#555555","strokeWidth":1},"encoding":{"x":{"datum":-2.5,"type":"quantitative","scale":{"domain":[-2.5,50.5],"range":[488,580]}},"x2":{"datum":50.5},"y":{"datum":0,"type":"quantitative","scale":{"domain":[-0.62,1.31],"range":[156.7,84]}}}},
{"data":{"name":"mvk"},"mark":{"type":"rule","strokeWidth":0.6,"opacity":0.55},"encoding":{"x":{"field":"t","type":"quantitative","scale":{"domain":[-2.5,50.5],"range":[488,580]}},"y":{"field":"lo","type":"quantitative","scale":{"domain":[-0.62,1.31],"range":[156.7,84]}},"y2":{"field":"hi"},"color":{"field":"s","type":"nominal","scale":{"domain":["mRNA","Protein","Metabolite"],"range":["#4b40cc","#f03a3a","#3cb043"]}}}},
{"data":{"name":"mvk"},"mark":{"type":"line","strokeWidth":0.9},"encoding":{"x":{"field":"t","type":"quantitative","scale":{"domain":[-2.5,50.5],"range":[488,580]}},"y":{"field":"v","type":"quantitative","scale":{"domain":[-0.62,1.31],"range":[156.7,84]}},"color":{"field":"s","type":"nominal","scale":{"domain":["mRNA","Protein","Metabolite"],"range":["#4b40cc","#f03a3a","#3cb043"]}}}},
{"data":{"name":"mvk"},"mark":{"type":"point","filled":true,"shape":"square","size":4,"opacity":1},"encoding":{"x":{"field":"t","type":"quantitative","scale":{"domain":[-2.5,50.5],"range":[488,580]}},"y":{"field":"v","type":"quantitative","scale":{"domain":[-0.62,1.31],"range":[156.7,84]}},"color":{"field":"s","type":"nominal","scale":{"domain":["mRNA","Protein","Metabolite"],"range":["#4b40cc","#f03a3a","#3cb043"]}}}},
{"data":{"values":[{}]},"mark":{"type":"text","text":"MVK","align":"left","baseline":"middle","fontSize":4,"fontWeight":"bold"},"encoding":{"x":{"datum":2,"type":"quantitative","scale":{"domain":[-2.5,50.5],"range":[488,580]}},"y":{"datum":1.12,"type":"quantitative","scale":{"domain":[-0.62,1.31],"range":[156.7,84]}}}},
{"data":{"values":[{}]},"mark":{"type":"rule","stroke":"#4b40cc","strokeWidth":0.8},"encoding":{"x":{"datum":12,"type":"quantitative","scale":{"domain":[-2.5,50.5],"range":[488,580]}},"x2":{"datum":16},"y":{"datum":-0.46,"type":"quantitative","scale":{"domain":[-0.62,1.31],"range":[156.7,84]}}}},
{"data":{"values":[{}]},"mark":{"type":"text","text":"mRNA","align":"left","baseline":"middle","fontSize":3.3},"encoding":{"x":{"datum":17,"type":"quantitative","scale":{"domain":[-2.5,50.5],"range":[488,580]}},"y":{"datum":-0.46,"type":"quantitative","scale":{"domain":[-0.62,1.31],"range":[156.7,84]}}}},
{"data":{"values":[{}]},"mark":{"type":"rule","stroke":"#f03a3a","strokeWidth":0.8},"encoding":{"x":{"datum":25,"type":"quantitative","scale":{"domain":[-2.5,50.5],"range":[488,580]}},"x2":{"datum":28.5},"y":{"datum":-0.46,"type":"quantitative","scale":{"domain":[-0.62,1.31],"range":[156.7,84]}}}},
{"data":{"values":[{}]},"mark":{"type":"text","text":"Protein","align":"left","baseline":"middle","fontSize":3.3},"encoding":{"x":{"datum":30,"type":"quantitative","scale":{"domain":[-2.5,50.5],"range":[488,580]}},"y":{"datum":-0.46,"type":"quantitative","scale":{"domain":[-0.62,1.31],"range":[156.7,84]}}}}
]},

{"layer":[
{"data":{"values":[{}]},"mark":{"type":"rect","fill":"white","stroke":"#a8a8a8","strokeWidth":0.6},"encoding":{"x":{"datum":-2.5,"type":"quantitative","scale":{"domain":[-2.5,50.5],"range":[643.3,736.1]},"axis":{"orient":"bottom","offset":-339,"values":[0,4,8,12,18,24,32,48],"title":"Hours After Addition of Drug"}},"x2":{"datum":50.5},"y":{"datum":-0.6,"type":"quantitative","scale":{"domain":[-0.6,2.43],"range":[155,84]},"axis":{"orient":"left","offset":-643.3,"values":[-0.5,0,0.5,1,1.5,2],"format":".1f","title":"Log2 Fold Change"}},"y2":{"datum":2.43}}},
{"data":{"name":"mvd"},"transform":[{"filter":"datum.s==='mRNA'"}],"mark":{"type":"rule","stroke":"#e4e4e4","strokeWidth":0.5},"encoding":{"x":{"field":"t","type":"quantitative","scale":{"domain":[-2.5,50.5],"range":[643.3,736.1]}},"y":{"datum":-0.6,"type":"quantitative","scale":{"domain":[-0.6,2.43],"range":[155,84]}},"y2":{"datum":2.43}}},
{"data":{"values":[{}]},"mark":{"type":"rule","stroke":"#b0b0b0","strokeWidth":0.5,"strokeDash":[1,1]},"encoding":{"x":{"datum":-2.5,"type":"quantitative","scale":{"domain":[-2.5,50.5],"range":[643.3,736.1]}},"x2":{"datum":50.5},"y":{"datum":1,"type":"quantitative","scale":{"domain":[-0.6,2.43],"range":[155,84]}}}},
{"data":{"values":[{}]},"mark":{"type":"rule","stroke":"#555555","strokeWidth":1},"encoding":{"x":{"datum":-2.5,"type":"quantitative","scale":{"domain":[-2.5,50.5],"range":[643.3,736.1]}},"x2":{"datum":50.5},"y":{"datum":0,"type":"quantitative","scale":{"domain":[-0.6,2.43],"range":[155,84]}}}},
{"data":{"name":"mvd"},"mark":{"type":"rule","strokeWidth":0.6,"opacity":0.55},"encoding":{"x":{"field":"t","type":"quantitative","scale":{"domain":[-2.5,50.5],"range":[643.3,736.1]}},"y":{"field":"lo","type":"quantitative","scale":{"domain":[-0.6,2.43],"range":[155,84]}},"y2":{"field":"hi"},"color":{"field":"s","type":"nominal","scale":{"domain":["mRNA","Protein","Metabolite"],"range":["#4b40cc","#f03a3a","#3cb043"]}}}},
{"data":{"name":"mvd"},"mark":{"type":"line","strokeWidth":0.9},"encoding":{"x":{"field":"t","type":"quantitative","scale":{"domain":[-2.5,50.5],"range":[643.3,736.1]}},"y":{"field":"v","type":"quantitative","scale":{"domain":[-0.6,2.43],"range":[155,84]}},"color":{"field":"s","type":"nominal","scale":{"domain":["mRNA","Protein","Metabolite"],"range":["#4b40cc","#f03a3a","#3cb043"]}}}},
{"data":{"name":"mvd"},"mark":{"type":"point","filled":true,"shape":"square","size":4,"opacity":1},"encoding":{"x":{"field":"t","type":"quantitative","scale":{"domain":[-2.5,50.5],"range":[643.3,736.1]}},"y":{"field":"v","type":"quantitative","scale":{"domain":[-0.6,2.43],"range":[155,84]}},"color":{"field":"s","type":"nominal","scale":{"domain":["mRNA","Protein","Metabolite"],"range":["#4b40cc","#f03a3a","#3cb043"]}}}},
{"data":{"values":[{}]},"mark":{"type":"text","text":"MVD","align":"left","baseline":"middle","fontSize":4,"fontWeight":"bold"},"encoding":{"x":{"datum":2,"type":"quantitative","scale":{"domain":[-2.5,50.5],"range":[643.3,736.1]}},"y":{"datum":2.13,"type":"quantitative","scale":{"domain":[-0.6,2.43],"range":[155,84]}}}},
{"data":{"values":[{}]},"mark":{"type":"rule","stroke":"#4b40cc","strokeWidth":0.8},"encoding":{"x":{"datum":12,"type":"quantitative","scale":{"domain":[-2.5,50.5],"range":[643.3,736.1]}},"x2":{"datum":16},"y":{"datum":-0.34,"type":"quantitative","scale":{"domain":[-0.6,2.43],"range":[155,84]}}}},
{"data":{"values":[{}]},"mark":{"type":"text","text":"mRNA","align":"left","baseline":"middle","fontSize":3.3},"encoding":{"x":{"datum":17,"type":"quantitative","scale":{"domain":[-2.5,50.5],"range":[643.3,736.1]}},"y":{"datum":-0.34,"type":"quantitative","scale":{"domain":[-0.6,2.43],"range":[155,84]}}}},
{"data":{"values":[{}]},"mark":{"type":"rule","stroke":"#f03a3a","strokeWidth":0.8},"encoding":{"x":{"datum":25,"type":"quantitative","scale":{"domain":[-2.5,50.5],"range":[643.3,736.1]}},"x2":{"datum":28.5},"y":{"datum":-0.34,"type":"quantitative","scale":{"domain":[-0.6,2.43],"range":[155,84]}}}},
{"data":{"values":[{}]},"mark":{"type":"text","text":"Protein","align":"left","baseline":"middle","fontSize":3.3},"encoding":{"x":{"datum":30,"type":"quantitative","scale":{"domain":[-2.5,50.5],"range":[643.3,736.1]}},"y":{"datum":-0.34,"type":"quantitative","scale":{"domain":[-0.6,2.43],"range":[155,84]}}}}
]},

{"layer":[
{"data":{"values":[{}]},"mark":{"type":"rect","fill":"white","stroke":"#a8a8a8","strokeWidth":0.6},"encoding":{"x":{"datum":-2.5,"type":"quantitative","scale":{"domain":[-2.5,50.5],"range":[93,185.4]},"axis":{"orient":"bottom","offset":-202.3,"values":[0,4,8,12,18,24,32,48],"title":"Hours After Addition of Drug"}},"x2":{"datum":50.5},"y":{"datum":-0.61,"type":"quantitative","scale":{"domain":[-0.61,2.24],"range":[291.7,221.7]},"axis":{"orient":"left","offset":-93,"values":[-0.5,0,0.5,1,1.5,2],"format":".1f","title":"Log2 Fold Change"}},"y2":{"datum":2.24}}},
{"data":{"name":"lss"},"transform":[{"filter":"datum.s==='mRNA'"}],"mark":{"type":"rule","stroke":"#e4e4e4","strokeWidth":0.5},"encoding":{"x":{"field":"t","type":"quantitative","scale":{"domain":[-2.5,50.5],"range":[93,185.4]}},"y":{"datum":-0.61,"type":"quantitative","scale":{"domain":[-0.61,2.24],"range":[291.7,221.7]}},"y2":{"datum":2.24}}},
{"data":{"values":[{}]},"mark":{"type":"rule","stroke":"#b0b0b0","strokeWidth":0.5,"strokeDash":[1,1]},"encoding":{"x":{"datum":-2.5,"type":"quantitative","scale":{"domain":[-2.5,50.5],"range":[93,185.4]}},"x2":{"datum":50.5},"y":{"datum":1,"type":"quantitative","scale":{"domain":[-0.61,2.24],"range":[291.7,221.7]}}}},
{"data":{"values":[{}]},"mark":{"type":"rule","stroke":"#555555","strokeWidth":1},"encoding":{"x":{"datum":-2.5,"type":"quantitative","scale":{"domain":[-2.5,50.5],"range":[93,185.4]}},"x2":{"datum":50.5},"y":{"datum":0,"type":"quantitative","scale":{"domain":[-0.61,2.24],"range":[291.7,221.7]}}}},
{"data":{"name":"lss"},"mark":{"type":"rule","strokeWidth":0.6,"opacity":0.55},"encoding":{"x":{"field":"t","type":"quantitative","scale":{"domain":[-2.5,50.5],"range":[93,185.4]}},"y":{"field":"lo","type":"quantitative","scale":{"domain":[-0.61,2.24],"range":[291.7,221.7]}},"y2":{"field":"hi"},"color":{"field":"s","type":"nominal","scale":{"domain":["mRNA","Protein","Metabolite"],"range":["#4b40cc","#f03a3a","#3cb043"]}}}},
{"data":{"name":"lss"},"mark":{"type":"line","strokeWidth":0.9},"encoding":{"x":{"field":"t","type":"quantitative","scale":{"domain":[-2.5,50.5],"range":[93,185.4]}},"y":{"field":"v","type":"quantitative","scale":{"domain":[-0.61,2.24],"range":[291.7,221.7]}},"color":{"field":"s","type":"nominal","scale":{"domain":["mRNA","Protein","Metabolite"],"range":["#4b40cc","#f03a3a","#3cb043"]}}}},
{"data":{"name":"lss"},"mark":{"type":"point","filled":true,"shape":"square","size":4,"opacity":1},"encoding":{"x":{"field":"t","type":"quantitative","scale":{"domain":[-2.5,50.5],"range":[93,185.4]}},"y":{"field":"v","type":"quantitative","scale":{"domain":[-0.61,2.24],"range":[291.7,221.7]}},"color":{"field":"s","type":"nominal","scale":{"domain":["mRNA","Protein","Metabolite"],"range":["#4b40cc","#f03a3a","#3cb043"]}}}},
{"data":{"values":[{}]},"mark":{"type":"text","text":"LSS","align":"left","baseline":"middle","fontSize":4,"fontWeight":"bold"},"encoding":{"x":{"datum":2,"type":"quantitative","scale":{"domain":[-2.5,50.5],"range":[93,185.4]}},"y":{"datum":1.96,"type":"quantitative","scale":{"domain":[-0.61,2.24],"range":[291.7,221.7]}}}},
{"data":{"values":[{}]},"mark":{"type":"rule","stroke":"#4b40cc","strokeWidth":0.8},"encoding":{"x":{"datum":12,"type":"quantitative","scale":{"domain":[-2.5,50.5],"range":[93,185.4]}},"x2":{"datum":16},"y":{"datum":-0.37,"type":"quantitative","scale":{"domain":[-0.61,2.24],"range":[291.7,221.7]}}}},
{"data":{"values":[{}]},"mark":{"type":"text","text":"mRNA","align":"left","baseline":"middle","fontSize":3.3},"encoding":{"x":{"datum":17,"type":"quantitative","scale":{"domain":[-2.5,50.5],"range":[93,185.4]}},"y":{"datum":-0.37,"type":"quantitative","scale":{"domain":[-0.61,2.24],"range":[291.7,221.7]}}}},
{"data":{"values":[{}]},"mark":{"type":"rule","stroke":"#f03a3a","strokeWidth":0.8},"encoding":{"x":{"datum":25,"type":"quantitative","scale":{"domain":[-2.5,50.5],"range":[93,185.4]}},"x2":{"datum":28.5},"y":{"datum":-0.37,"type":"quantitative","scale":{"domain":[-0.61,2.24],"range":[291.7,221.7]}}}},
{"data":{"values":[{}]},"mark":{"type":"text","text":"Protein","align":"left","baseline":"middle","fontSize":3.3},"encoding":{"x":{"datum":30,"type":"quantitative","scale":{"domain":[-2.5,50.5],"range":[93,185.4]}},"y":{"datum":-0.37,"type":"quantitative","scale":{"domain":[-0.61,2.24],"range":[291.7,221.7]}}}}
]},

{"layer":[
{"data":{"values":[{}]},"mark":{"type":"rect","fill":"white","stroke":"#a8a8a8","strokeWidth":0.6},"encoding":{"x":{"datum":-2.5,"type":"quantitative","scale":{"domain":[-2.5,50.5],"range":[253.5,355.8]},"axis":{"orient":"bottom","offset":-202.3,"values":[0,4,8,12,18,24,32,48],"title":"Hours After Addition of Drug"}},"x2":{"datum":50.5},"y":{"datum":-0.56,"type":"quantitative","scale":{"domain":[-0.56,1.72],"range":[291.7,223.3]},"axis":{"orient":"left","offset":-253.5,"values":[-0.5,0,0.5,1,1.5],"format":".1f","title":"Log2 Fold Change"}},"y2":{"datum":1.72}}},
{"data":{"name":"sqle"},"transform":[{"filter":"datum.s==='mRNA'"}],"mark":{"type":"rule","stroke":"#e4e4e4","strokeWidth":0.5},"encoding":{"x":{"field":"t","type":"quantitative","scale":{"domain":[-2.5,50.5],"range":[253.5,355.8]}},"y":{"datum":-0.56,"type":"quantitative","scale":{"domain":[-0.56,1.72],"range":[291.7,223.3]}},"y2":{"datum":1.72}}},
{"data":{"values":[{}]},"mark":{"type":"rule","stroke":"#b0b0b0","strokeWidth":0.5,"strokeDash":[1,1]},"encoding":{"x":{"datum":-2.5,"type":"quantitative","scale":{"domain":[-2.5,50.5],"range":[253.5,355.8]}},"x2":{"datum":50.5},"y":{"datum":1,"type":"quantitative","scale":{"domain":[-0.56,1.72],"range":[291.7,223.3]}}}},
{"data":{"values":[{}]},"mark":{"type":"rule","stroke":"#555555","strokeWidth":1},"encoding":{"x":{"datum":-2.5,"type":"quantitative","scale":{"domain":[-2.5,50.5],"range":[253.5,355.8]}},"x2":{"datum":50.5},"y":{"datum":0,"type":"quantitative","scale":{"domain":[-0.56,1.72],"range":[291.7,223.3]}}}},
{"data":{"name":"sqle"},"mark":{"type":"rule","strokeWidth":0.6,"opacity":0.55},"encoding":{"x":{"field":"t","type":"quantitative","scale":{"domain":[-2.5,50.5],"range":[253.5,355.8]}},"y":{"field":"lo","type":"quantitative","scale":{"domain":[-0.56,1.72],"range":[291.7,223.3]}},"y2":{"field":"hi"},"color":{"field":"s","type":"nominal","scale":{"domain":["mRNA","Protein","Metabolite"],"range":["#4b40cc","#f03a3a","#3cb043"]}}}},
{"data":{"name":"sqle"},"mark":{"type":"line","strokeWidth":0.9},"encoding":{"x":{"field":"t","type":"quantitative","scale":{"domain":[-2.5,50.5],"range":[253.5,355.8]}},"y":{"field":"v","type":"quantitative","scale":{"domain":[-0.56,1.72],"range":[291.7,223.3]}},"color":{"field":"s","type":"nominal","scale":{"domain":["mRNA","Protein","Metabolite"],"range":["#4b40cc","#f03a3a","#3cb043"]}}}},
{"data":{"name":"sqle"},"mark":{"type":"point","filled":true,"shape":"square","size":4,"opacity":1},"encoding":{"x":{"field":"t","type":"quantitative","scale":{"domain":[-2.5,50.5],"range":[253.5,355.8]}},"y":{"field":"v","type":"quantitative","scale":{"domain":[-0.56,1.72],"range":[291.7,223.3]}},"color":{"field":"s","type":"nominal","scale":{"domain":["mRNA","Protein","Metabolite"],"range":["#4b40cc","#f03a3a","#3cb043"]}}}},
{"data":{"values":[{}]},"mark":{"type":"text","text":"SQLE","align":"left","baseline":"middle","fontSize":4,"fontWeight":"bold"},"encoding":{"x":{"datum":2,"type":"quantitative","scale":{"domain":[-2.5,50.5],"range":[253.5,355.8]}},"y":{"datum":1.49,"type":"quantitative","scale":{"domain":[-0.56,1.72],"range":[291.7,223.3]}}}},
{"data":{"values":[{}]},"mark":{"type":"rule","stroke":"#4b40cc","strokeWidth":0.8},"encoding":{"x":{"datum":12,"type":"quantitative","scale":{"domain":[-2.5,50.5],"range":[253.5,355.8]}},"x2":{"datum":16},"y":{"datum":-0.37,"type":"quantitative","scale":{"domain":[-0.56,1.72],"range":[291.7,223.3]}}}},
{"data":{"values":[{}]},"mark":{"type":"text","text":"mRNA","align":"left","baseline":"middle","fontSize":3.3},"encoding":{"x":{"datum":17,"type":"quantitative","scale":{"domain":[-2.5,50.5],"range":[253.5,355.8]}},"y":{"datum":-0.37,"type":"quantitative","scale":{"domain":[-0.56,1.72],"range":[291.7,223.3]}}}},
{"data":{"values":[{}]},"mark":{"type":"rule","stroke":"#f03a3a","strokeWidth":0.8},"encoding":{"x":{"datum":25,"type":"quantitative","scale":{"domain":[-2.5,50.5],"range":[253.5,355.8]}},"x2":{"datum":28.5},"y":{"datum":-0.37,"type":"quantitative","scale":{"domain":[-0.56,1.72],"range":[291.7,223.3]}}}},
{"data":{"values":[{}]},"mark":{"type":"text","text":"Protein","align":"left","baseline":"middle","fontSize":3.3},"encoding":{"x":{"datum":30,"type":"quantitative","scale":{"domain":[-2.5,50.5],"range":[253.5,355.8]}},"y":{"datum":-0.37,"type":"quantitative","scale":{"domain":[-0.56,1.72],"range":[291.7,223.3]}}}}
]},

{"layer":[
{"data":{"values":[{}]},"mark":{"type":"rect","fill":"white","stroke":"#a8a8a8","strokeWidth":0.6},"encoding":{"x":{"datum":-2.5,"type":"quantitative","scale":{"domain":[-2.5,50.5],"range":[389,480.3]},"axis":{"orient":"bottom","offset":-201.7,"values":[0,4,8,12,18,24,32,48],"title":"Hours After Addition of Drug"}},"x2":{"datum":50.5},"y":{"datum":-0.6,"type":"quantitative","scale":{"domain":[-0.6,2.1],"range":[292.3,222.3]},"axis":{"orient":"left","offset":-389,"values":[-0.5,0,0.5,1,1.5,2],"format":".1f","title":"Log2 Fold Change"}},"y2":{"datum":2.1}}},
{"data":{"name":"fdft1"},"transform":[{"filter":"datum.s==='mRNA'"}],"mark":{"type":"rule","stroke":"#e4e4e4","strokeWidth":0.5},"encoding":{"x":{"field":"t","type":"quantitative","scale":{"domain":[-2.5,50.5],"range":[389,480.3]}},"y":{"datum":-0.6,"type":"quantitative","scale":{"domain":[-0.6,2.1],"range":[292.3,222.3]}},"y2":{"datum":2.1}}},
{"data":{"values":[{}]},"mark":{"type":"rule","stroke":"#b0b0b0","strokeWidth":0.5,"strokeDash":[1,1]},"encoding":{"x":{"datum":-2.5,"type":"quantitative","scale":{"domain":[-2.5,50.5],"range":[389,480.3]}},"x2":{"datum":50.5},"y":{"datum":1,"type":"quantitative","scale":{"domain":[-0.6,2.1],"range":[292.3,222.3]}}}},
{"data":{"values":[{}]},"mark":{"type":"rule","stroke":"#555555","strokeWidth":1},"encoding":{"x":{"datum":-2.5,"type":"quantitative","scale":{"domain":[-2.5,50.5],"range":[389,480.3]}},"x2":{"datum":50.5},"y":{"datum":0,"type":"quantitative","scale":{"domain":[-0.6,2.1],"range":[292.3,222.3]}}}},
{"data":{"name":"fdft1"},"mark":{"type":"rule","strokeWidth":0.6,"opacity":0.55},"encoding":{"x":{"field":"t","type":"quantitative","scale":{"domain":[-2.5,50.5],"range":[389,480.3]}},"y":{"field":"lo","type":"quantitative","scale":{"domain":[-0.6,2.1],"range":[292.3,222.3]}},"y2":{"field":"hi"},"color":{"field":"s","type":"nominal","scale":{"domain":["mRNA","Protein","Metabolite"],"range":["#4b40cc","#f03a3a","#3cb043"]}}}},
{"data":{"name":"fdft1"},"mark":{"type":"line","strokeWidth":0.9},"encoding":{"x":{"field":"t","type":"quantitative","scale":{"domain":[-2.5,50.5],"range":[389,480.3]}},"y":{"field":"v","type":"quantitative","scale":{"domain":[-0.6,2.1],"range":[292.3,222.3]}},"color":{"field":"s","type":"nominal","scale":{"domain":["mRNA","Protein","Metabolite"],"range":["#4b40cc","#f03a3a","#3cb043"]}}}},
{"data":{"name":"fdft1"},"mark":{"type":"point","filled":true,"shape":"square","size":4,"opacity":1},"encoding":{"x":{"field":"t","type":"quantitative","scale":{"domain":[-2.5,50.5],"range":[389,480.3]}},"y":{"field":"v","type":"quantitative","scale":{"domain":[-0.6,2.1],"range":[292.3,222.3]}},"color":{"field":"s","type":"nominal","scale":{"domain":["mRNA","Protein","Metabolite"],"range":["#4b40cc","#f03a3a","#3cb043"]}}}},
{"data":{"values":[{}]},"mark":{"type":"text","text":"FDFT1","align":"left","baseline":"middle","fontSize":4,"fontWeight":"bold"},"encoding":{"x":{"datum":2,"type":"quantitative","scale":{"domain":[-2.5,50.5],"range":[389,480.3]}},"y":{"datum":1.83,"type":"quantitative","scale":{"domain":[-0.6,2.1],"range":[292.3,222.3]}}}},
{"data":{"values":[{}]},"mark":{"type":"rule","stroke":"#4b40cc","strokeWidth":0.8},"encoding":{"x":{"datum":12,"type":"quantitative","scale":{"domain":[-2.5,50.5],"range":[389,480.3]}},"x2":{"datum":16},"y":{"datum":-0.37,"type":"quantitative","scale":{"domain":[-0.6,2.1],"range":[292.3,222.3]}}}},
{"data":{"values":[{}]},"mark":{"type":"text","text":"mRNA","align":"left","baseline":"middle","fontSize":3.3},"encoding":{"x":{"datum":17,"type":"quantitative","scale":{"domain":[-2.5,50.5],"range":[389,480.3]}},"y":{"datum":-0.37,"type":"quantitative","scale":{"domain":[-0.6,2.1],"range":[292.3,222.3]}}}},
{"data":{"values":[{}]},"mark":{"type":"rule","stroke":"#f03a3a","strokeWidth":0.8},"encoding":{"x":{"datum":25,"type":"quantitative","scale":{"domain":[-2.5,50.5],"range":[389,480.3]}},"x2":{"datum":28.5},"y":{"datum":-0.37,"type":"quantitative","scale":{"domain":[-0.6,2.1],"range":[292.3,222.3]}}}},
{"data":{"values":[{}]},"mark":{"type":"text","text":"Protein","align":"left","baseline":"middle","fontSize":3.3},"encoding":{"x":{"datum":30,"type":"quantitative","scale":{"domain":[-2.5,50.5],"range":[389,480.3]}},"y":{"datum":-0.37,"type":"quantitative","scale":{"domain":[-0.6,2.1],"range":[292.3,222.3]}}}}
]},

{"layer":[
{"data":{"values":[{}]},"mark":{"type":"rect","fill":"white","stroke":"#a8a8a8","strokeWidth":0.6},"encoding":{"x":{"datum":-2.5,"type":"quantitative","scale":{"domain":[-2.5,50.5],"range":[525.7,617.7]},"axis":{"orient":"bottom","offset":-201.7,"values":[0,4,8,12,18,24,32,48],"title":"Hours After Addition of Drug"}},"x2":{"datum":50.5},"y":{"datum":-0.59,"type":"quantitative","scale":{"domain":[-0.59,1.58],"range":[292.3,222.3]},"axis":{"orient":"left","offset":-525.7,"values":[-0.5,0,0.5,1,1.5],"format":".1f","title":"Log2 Fold Change"}},"y2":{"datum":1.58}}},
{"data":{"name":"idi1"},"transform":[{"filter":"datum.s==='mRNA'"}],"mark":{"type":"rule","stroke":"#e4e4e4","strokeWidth":0.5},"encoding":{"x":{"field":"t","type":"quantitative","scale":{"domain":[-2.5,50.5],"range":[525.7,617.7]}},"y":{"datum":-0.59,"type":"quantitative","scale":{"domain":[-0.59,1.58],"range":[292.3,222.3]}},"y2":{"datum":1.58}}},
{"data":{"values":[{}]},"mark":{"type":"rule","stroke":"#b0b0b0","strokeWidth":0.5,"strokeDash":[1,1]},"encoding":{"x":{"datum":-2.5,"type":"quantitative","scale":{"domain":[-2.5,50.5],"range":[525.7,617.7]}},"x2":{"datum":50.5},"y":{"datum":1,"type":"quantitative","scale":{"domain":[-0.59,1.58],"range":[292.3,222.3]}}}},
{"data":{"values":[{}]},"mark":{"type":"rule","stroke":"#555555","strokeWidth":1},"encoding":{"x":{"datum":-2.5,"type":"quantitative","scale":{"domain":[-2.5,50.5],"range":[525.7,617.7]}},"x2":{"datum":50.5},"y":{"datum":0,"type":"quantitative","scale":{"domain":[-0.59,1.58],"range":[292.3,222.3]}}}},
{"data":{"name":"idi1"},"mark":{"type":"rule","strokeWidth":0.6,"opacity":0.55},"encoding":{"x":{"field":"t","type":"quantitative","scale":{"domain":[-2.5,50.5],"range":[525.7,617.7]}},"y":{"field":"lo","type":"quantitative","scale":{"domain":[-0.59,1.58],"range":[292.3,222.3]}},"y2":{"field":"hi"},"color":{"field":"s","type":"nominal","scale":{"domain":["mRNA","Protein","Metabolite"],"range":["#4b40cc","#f03a3a","#3cb043"]}}}},
{"data":{"name":"idi1"},"mark":{"type":"line","strokeWidth":0.9},"encoding":{"x":{"field":"t","type":"quantitative","scale":{"domain":[-2.5,50.5],"range":[525.7,617.7]}},"y":{"field":"v","type":"quantitative","scale":{"domain":[-0.59,1.58],"range":[292.3,222.3]}},"color":{"field":"s","type":"nominal","scale":{"domain":["mRNA","Protein","Metabolite"],"range":["#4b40cc","#f03a3a","#3cb043"]}}}},
{"data":{"name":"idi1"},"mark":{"type":"point","filled":true,"shape":"square","size":4,"opacity":1},"encoding":{"x":{"field":"t","type":"quantitative","scale":{"domain":[-2.5,50.5],"range":[525.7,617.7]}},"y":{"field":"v","type":"quantitative","scale":{"domain":[-0.59,1.58],"range":[292.3,222.3]}},"color":{"field":"s","type":"nominal","scale":{"domain":["mRNA","Protein","Metabolite"],"range":["#4b40cc","#f03a3a","#3cb043"]}}}},
{"data":{"values":[{}]},"mark":{"type":"text","text":"IDI1","align":"left","baseline":"middle","fontSize":4,"fontWeight":"bold"},"encoding":{"x":{"datum":2,"type":"quantitative","scale":{"domain":[-2.5,50.5],"range":[525.7,617.7]}},"y":{"datum":1.36,"type":"quantitative","scale":{"domain":[-0.59,1.58],"range":[292.3,222.3]}}}},
{"data":{"values":[{}]},"mark":{"type":"rule","stroke":"#4b40cc","strokeWidth":0.8},"encoding":{"x":{"datum":12,"type":"quantitative","scale":{"domain":[-2.5,50.5],"range":[525.7,617.7]}},"x2":{"datum":16},"y":{"datum":-0.41,"type":"quantitative","scale":{"domain":[-0.59,1.58],"range":[292.3,222.3]}}}},
{"data":{"values":[{}]},"mark":{"type":"text","text":"mRNA","align":"left","baseline":"middle","fontSize":3.3},"encoding":{"x":{"datum":17,"type":"quantitative","scale":{"domain":[-2.5,50.5],"range":[525.7,617.7]}},"y":{"datum":-0.41,"type":"quantitative","scale":{"domain":[-0.59,1.58],"range":[292.3,222.3]}}}},
{"data":{"values":[{}]},"mark":{"type":"rule","stroke":"#f03a3a","strokeWidth":0.8},"encoding":{"x":{"datum":25,"type":"quantitative","scale":{"domain":[-2.5,50.5],"range":[525.7,617.7]}},"x2":{"datum":28.5},"y":{"datum":-0.41,"type":"quantitative","scale":{"domain":[-0.59,1.58],"range":[292.3,222.3]}}}},
{"data":{"values":[{}]},"mark":{"type":"text","text":"Protein","align":"left","baseline":"middle","fontSize":3.3},"encoding":{"x":{"datum":30,"type":"quantitative","scale":{"domain":[-2.5,50.5],"range":[525.7,617.7]}},"y":{"datum":-0.41,"type":"quantitative","scale":{"domain":[-0.59,1.58],"range":[292.3,222.3]}}}}
]},

{"layer":[
{"data":{"values":[{}]},"mark":{"type":"rect","fill":"white","stroke":"#a8a8a8","strokeWidth":0.6},"encoding":{"x":{"datum":-2.5,"type":"quantitative","scale":{"domain":[-2.5,50.5],"range":[656.7,748.3]},"axis":{"orient":"bottom","offset":-201.7,"values":[0,4,8,12,18,24,32,48],"title":"Hours After Addition of Drug"}},"x2":{"datum":50.5},"y":{"datum":-0.59,"type":"quantitative","scale":{"domain":[-0.59,1.58],"range":[292.3,222.3]},"axis":{"orient":"left","offset":-656.7,"values":[-0.5,0,0.5,1,1.5],"format":".1f","title":"Log2 Fold Change"}},"y2":{"datum":1.58}}},
{"data":{"name":"idi1"},"transform":[{"filter":"datum.s==='mRNA'"}],"mark":{"type":"rule","stroke":"#e4e4e4","strokeWidth":0.5},"encoding":{"x":{"field":"t","type":"quantitative","scale":{"domain":[-2.5,50.5],"range":[656.7,748.3]}},"y":{"datum":-0.59,"type":"quantitative","scale":{"domain":[-0.59,1.58],"range":[292.3,222.3]}},"y2":{"datum":1.58}}},
{"data":{"values":[{}]},"mark":{"type":"rule","stroke":"#b0b0b0","strokeWidth":0.5,"strokeDash":[1,1]},"encoding":{"x":{"datum":-2.5,"type":"quantitative","scale":{"domain":[-2.5,50.5],"range":[656.7,748.3]}},"x2":{"datum":50.5},"y":{"datum":1,"type":"quantitative","scale":{"domain":[-0.59,1.58],"range":[292.3,222.3]}}}},
{"data":{"values":[{}]},"mark":{"type":"rule","stroke":"#555555","strokeWidth":1},"encoding":{"x":{"datum":-2.5,"type":"quantitative","scale":{"domain":[-2.5,50.5],"range":[656.7,748.3]}},"x2":{"datum":50.5},"y":{"datum":0,"type":"quantitative","scale":{"domain":[-0.59,1.58],"range":[292.3,222.3]}}}},
{"data":{"name":"idi1"},"mark":{"type":"rule","strokeWidth":0.6,"opacity":0.55},"encoding":{"x":{"field":"t","type":"quantitative","scale":{"domain":[-2.5,50.5],"range":[656.7,748.3]}},"y":{"field":"lo","type":"quantitative","scale":{"domain":[-0.59,1.58],"range":[292.3,222.3]}},"y2":{"field":"hi"},"color":{"field":"s","type":"nominal","scale":{"domain":["mRNA","Protein","Metabolite"],"range":["#4b40cc","#f03a3a","#3cb043"]}}}},
{"data":{"name":"idi1"},"mark":{"type":"line","strokeWidth":0.9},"encoding":{"x":{"field":"t","type":"quantitative","scale":{"domain":[-2.5,50.5],"range":[656.7,748.3]}},"y":{"field":"v","type":"quantitative","scale":{"domain":[-0.59,1.58],"range":[292.3,222.3]}},"color":{"field":"s","type":"nominal","scale":{"domain":["mRNA","Protein","Metabolite"],"range":["#4b40cc","#f03a3a","#3cb043"]}}}},
{"data":{"name":"idi1"},"mark":{"type":"point","filled":true,"shape":"square","size":4,"opacity":1},"encoding":{"x":{"field":"t","type":"quantitative","scale":{"domain":[-2.5,50.5],"range":[656.7,748.3]}},"y":{"field":"v","type":"quantitative","scale":{"domain":[-0.59,1.58],"range":[292.3,222.3]}},"color":{"field":"s","type":"nominal","scale":{"domain":["mRNA","Protein","Metabolite"],"range":["#4b40cc","#f03a3a","#3cb043"]}}}},
{"data":{"values":[{}]},"mark":{"type":"text","text":"IDI1","align":"left","baseline":"middle","fontSize":4,"fontWeight":"bold"},"encoding":{"x":{"datum":2,"type":"quantitative","scale":{"domain":[-2.5,50.5],"range":[656.7,748.3]}},"y":{"datum":1.36,"type":"quantitative","scale":{"domain":[-0.59,1.58],"range":[292.3,222.3]}}}},
{"data":{"values":[{}]},"mark":{"type":"rule","stroke":"#4b40cc","strokeWidth":0.8},"encoding":{"x":{"datum":12,"type":"quantitative","scale":{"domain":[-2.5,50.5],"range":[656.7,748.3]}},"x2":{"datum":16},"y":{"datum":-0.41,"type":"quantitative","scale":{"domain":[-0.59,1.58],"range":[292.3,222.3]}}}},
{"data":{"values":[{}]},"mark":{"type":"text","text":"mRNA","align":"left","baseline":"middle","fontSize":3.3},"encoding":{"x":{"datum":17,"type":"quantitative","scale":{"domain":[-2.5,50.5],"range":[656.7,748.3]}},"y":{"datum":-0.41,"type":"quantitative","scale":{"domain":[-0.59,1.58],"range":[292.3,222.3]}}}},
{"data":{"values":[{}]},"mark":{"type":"rule","stroke":"#f03a3a","strokeWidth":0.8},"encoding":{"x":{"datum":25,"type":"quantitative","scale":{"domain":[-2.5,50.5],"range":[656.7,748.3]}},"x2":{"datum":28.5},"y":{"datum":-0.41,"type":"quantitative","scale":{"domain":[-0.59,1.58],"range":[292.3,222.3]}}}},
{"data":{"values":[{}]},"mark":{"type":"text","text":"Protein","align":"left","baseline":"middle","fontSize":3.3},"encoding":{"x":{"datum":30,"type":"quantitative","scale":{"domain":[-2.5,50.5],"range":[656.7,748.3]}},"y":{"datum":-0.41,"type":"quantitative","scale":{"domain":[-0.59,1.58],"range":[292.3,222.3]}}}}
]},

{"layer":[
{"data":{"values":[{}]},"mark":{"type":"rect","fill":"white","stroke":"#999999","strokeWidth":0.8},"encoding":{"x":{"datum":-1.92,"type":"quantitative","scale":{"domain":[-1.92,49.92],"range":[154.9,291.8]},"axis":{"orient":"bottom","offset":-19,"values":[0,4,8,12,16,24,32,48],"title":"Hours after addition of Unk5","labelFontSize":5.5,"titleFontSize":6,"tickSize":2.5,"labelPadding":1,"titlePadding":1}},"x2":{"datum":49.92},"y":{"datum":-1.07,"type":"quantitative","scale":{"domain":[-1.07,1.34],"range":[472,370]},"axis":{"orient":"left","offset":-154.9,"values":[-1,-0.5,0,0.5,1],"format":".1f","title":"Log2 Fold Change","labelFontSize":5.5,"titleFontSize":6,"tickSize":2.5,"labelPadding":1,"titlePadding":2}},"y2":{"datum":1.34}}},
{"data":{"name":"mgrid"},"mark":{"type":"rule","stroke":"#e6e6e6","strokeWidth":0.6},"encoding":{"x":{"field":"h","type":"quantitative","scale":{"domain":[-1.92,49.92],"range":[154.9,291.8]}},"y":{"datum":-1.07,"type":"quantitative","scale":{"domain":[-1.07,1.34],"range":[472,370]}},"y2":{"datum":1.34}}},
{"data":{"values":[{"g":-1},{"g":1}]},"mark":{"type":"rule","stroke":"#b0b0b0","strokeWidth":0.6,"strokeDash":[2,2]},"encoding":{"x":{"datum":-1.92,"type":"quantitative","scale":{"domain":[-1.92,49.92],"range":[154.9,291.8]}},"x2":{"datum":49.92},"y":{"field":"g","type":"quantitative","scale":{"domain":[-1.07,1.34],"range":[472,370]}}}},
{"data":{"values":[{}]},"mark":{"type":"rule","stroke":"#444444","strokeWidth":1},"encoding":{"x":{"datum":-1.92,"type":"quantitative","scale":{"domain":[-1.92,49.92],"range":[154.9,291.8]}},"x2":{"datum":49.92},"y":{"datum":0,"type":"quantitative","scale":{"domain":[-1.07,1.34],"range":[472,370]}}}},
{"data":{"name":"chol"},"mark":{"type":"rule","stroke":"#2e9a2e","strokeWidth":0.9},"encoding":{"x":{"field":"t","type":"quantitative","scale":{"domain":[-1.92,49.92],"range":[154.9,291.8]}},"y":{"field":"lo","type":"quantitative","scale":{"domain":[-1.07,1.34],"range":[472,370]}},"y2":{"field":"hi"}}},
{"data":{"name":"chol"},"mark":{"type":"tick","orient":"horizontal","size":3,"thickness":0.8,"color":"#2e9a2e","opacity":1},"encoding":{"x":{"field":"t","type":"quantitative","scale":{"domain":[-1.92,49.92],"range":[154.9,291.8]}},"y":{"field":"lo","type":"quantitative","scale":{"domain":[-1.07,1.34],"range":[472,370]}}}},
{"data":{"name":"chol"},"mark":{"type":"tick","orient":"horizontal","size":3,"thickness":0.8,"color":"#2e9a2e","opacity":1},"encoding":{"x":{"field":"t","type":"quantitative","scale":{"domain":[-1.92,49.92],"range":[154.9,291.8]}},"y":{"field":"hi","type":"quantitative","scale":{"domain":[-1.07,1.34],"range":[472,370]}}}},
{"data":{"name":"chol"},"mark":{"type":"line","stroke":"#4cc04c","strokeWidth":1.1},"encoding":{"x":{"field":"t","type":"quantitative","scale":{"domain":[-1.92,49.92],"range":[154.9,291.8]}},"y":{"field":"v","type":"quantitative","scale":{"domain":[-1.07,1.34],"range":[472,370]}}}},
{"data":{"name":"chol"},"mark":{"type":"point","filled":true,"shape":"square","size":7,"color":"#2e8b2e","opacity":1},"encoding":{"x":{"field":"t","type":"quantitative","scale":{"domain":[-1.92,49.92],"range":[154.9,291.8]}},"y":{"field":"v","type":"quantitative","scale":{"domain":[-1.07,1.34],"range":[472,370]}}}},
{"data":{"values":[{}]},"mark":{"type":"text","text":"Cholesterol","align":"center","baseline":"middle","fontSize":6.5,"fontWeight":"bold"},"encoding":{"x":{"datum":24,"type":"quantitative","scale":{"domain":[-1.92,49.92],"range":[154.9,291.8]}},"y":{"datum":1.2,"type":"quantitative","scale":{"domain":[-1.07,1.34],"range":[472,370]}}}}
]},

{"layer":[
{"data":{"values":[{}]},"mark":{"type":"rect","fill":"white","stroke":"#999999","strokeWidth":0.8},"encoding":{"x":{"datum":-1.92,"type":"quantitative","scale":{"domain":[-1.92,49.92],"range":[389.3,525]},"axis":{"orient":"bottom","offset":-18,"values":[0,4,8,12,16,24,32,48],"title":"Hours after addition of Unk5","labelFontSize":5.5,"titleFontSize":6,"tickSize":2.5,"labelPadding":1,"titlePadding":1}},"x2":{"datum":49.92},"y":{"datum":-1.6,"type":"quantitative","scale":{"domain":[-1.6,0.6],"range":[473,366.7]},"axis":{"orient":"left","offset":-389.3,"values":[-1.5,-1,-0.5,0,0.5],"format":".1f","title":"Log2 Fold Change","labelFontSize":5.5,"titleFontSize":6,"tickSize":2.5,"labelPadding":1,"titlePadding":2}},"y2":{"datum":0.6}}},
{"data":{"name":"mgrid"},"mark":{"type":"rule","stroke":"#e6e6e6","strokeWidth":0.6},"encoding":{"x":{"field":"h","type":"quantitative","scale":{"domain":[-1.92,49.92],"range":[389.3,525]}},"y":{"datum":-1.6,"type":"quantitative","scale":{"domain":[-1.6,0.6],"range":[473,366.7]}},"y2":{"datum":0.6}}},
{"data":{"values":[{"g":-1}]},"mark":{"type":"rule","stroke":"#b0b0b0","strokeWidth":0.6,"strokeDash":[2,2]},"encoding":{"x":{"datum":-1.92,"type":"quantitative","scale":{"domain":[-1.92,49.92],"range":[389.3,525]}},"x2":{"datum":49.92},"y":{"field":"g","type":"quantitative","scale":{"domain":[-1.6,0.6],"range":[473,366.7]}}}},
{"data":{"values":[{}]},"mark":{"type":"rule","stroke":"#444444","strokeWidth":1},"encoding":{"x":{"datum":-1.92,"type":"quantitative","scale":{"domain":[-1.92,49.92],"range":[389.3,525]}},"x2":{"datum":49.92},"y":{"datum":0,"type":"quantitative","scale":{"domain":[-1.6,0.6],"range":[473,366.7]}}}},
{"data":{"name":"cheno"},"mark":{"type":"rule","stroke":"#2e9a2e","strokeWidth":0.9},"encoding":{"x":{"field":"t","type":"quantitative","scale":{"domain":[-1.92,49.92],"range":[389.3,525]}},"y":{"field":"lo","type":"quantitative","scale":{"domain":[-1.6,0.6],"range":[473,366.7]}},"y2":{"field":"hi"}}},
{"data":{"name":"cheno"},"mark":{"type":"tick","orient":"horizontal","size":3,"thickness":0.8,"color":"#2e9a2e","opacity":1},"encoding":{"x":{"field":"t","type":"quantitative","scale":{"domain":[-1.92,49.92],"range":[389.3,525]}},"y":{"field":"lo","type":"quantitative","scale":{"domain":[-1.6,0.6],"range":[473,366.7]}}}},
{"data":{"name":"cheno"},"mark":{"type":"tick","orient":"horizontal","size":3,"thickness":0.8,"color":"#2e9a2e","opacity":1},"encoding":{"x":{"field":"t","type":"quantitative","scale":{"domain":[-1.92,49.92],"range":[389.3,525]}},"y":{"field":"hi","type":"quantitative","scale":{"domain":[-1.6,0.6],"range":[473,366.7]}}}},
{"data":{"name":"cheno"},"mark":{"type":"line","stroke":"#4cc04c","strokeWidth":1.1},"encoding":{"x":{"field":"t","type":"quantitative","scale":{"domain":[-1.92,49.92],"range":[389.3,525]}},"y":{"field":"v","type":"quantitative","scale":{"domain":[-1.6,0.6],"range":[473,366.7]}}}},
{"data":{"name":"cheno"},"mark":{"type":"point","filled":true,"shape":"square","size":7,"color":"#2e8b2e","opacity":1},"encoding":{"x":{"field":"t","type":"quantitative","scale":{"domain":[-1.92,49.92],"range":[389.3,525]}},"y":{"field":"v","type":"quantitative","scale":{"domain":[-1.6,0.6],"range":[473,366.7]}}}},
{"data":{"values":[{}]},"mark":{"type":"text","text":"Chenodeoxycholic acid","align":"center","baseline":"middle","fontSize":6.5,"fontWeight":"bold"},"encoding":{"x":{"datum":24,"type":"quantitative","scale":{"domain":[-1.92,49.92],"range":[389.3,525]}},"y":{"datum":0.41,"type":"quantitative","scale":{"domain":[-1.6,0.6],"range":[473,366.7]}}}}
]}
]
}
